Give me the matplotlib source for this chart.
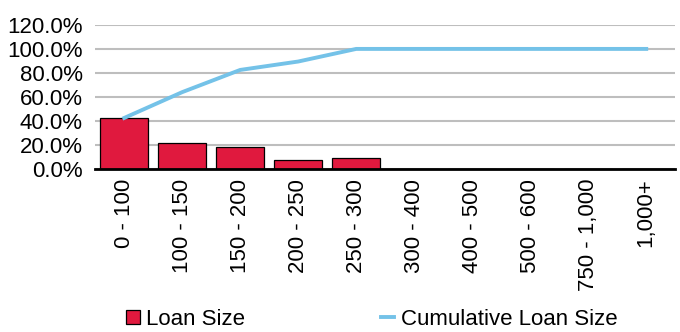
import matplotlib.pyplot as plt
import numpy as np

plt.rcParams['font.family'] = ['Liberation Sans', 'DejaVu Sans']

# loan size buckets and shares (percent)
buckets = ['0 - 100', '100 - 150', '150 - 200', '200 - 250', '250 - 300',
           '300 - 400', '400 - 500', '500 - 600', '750 - 1,000', '1,000+']
loan_share = [42.5, 21.5, 18.5, 7.5, 9.5, 0, 0, 0, 0, 0]
cumulative = [42.5, 64.0, 82.5, 89.5, 100.0, 100.0, 100.0, 100.0, 100.0, 100.0]
yticks = [0, 20, 40, 60, 80, 100, 120]

fig = plt.figure(figsize=(6.8, 3.32), dpi=100)
ax = fig.add_axes([0.14, 0.491, 0.853, 0.434])

x = np.arange(len(buckets))
bars = ax.bar(x, loan_share, width=0.83, color='#E0193E', edgecolor='black',
              linewidth=0.9, label='Loan Size', zorder=3)
line, = ax.plot(x, cumulative, color='#74C2E8', linewidth=2.8,
                label='Cumulative Loan Size', zorder=4)

ax.set_xlim(-0.5, len(buckets) - 0.5)
ax.set_ylim(0, 120)
ax.set_yticks(yticks)
ax.set_yticklabels(['%.1f%%' % v for v in yticks], fontsize=16)
ax.set_xticks(x)
ax.set_xticklabels(buckets, rotation=90, fontsize=16, va='top', ha='center')
ax.tick_params(axis='both', length=0)
ax.tick_params(axis='y', pad=9)
ax.tick_params(axis='x', pad=7)
ax.yaxis.grid(True, color='#BEBEBE', linewidth=1.5, zorder=0)
for s in ['left', 'right', 'top']:
    ax.spines[s].set_visible(False)
ax.spines['bottom'].set_linewidth(2)
ax.spines['bottom'].set_zorder(5)

fig.legend(handles=[bars, line], loc='lower left', bbox_to_anchor=(0.163, -0.04),
           ncol=2, frameon=False, fontsize=16, handlelength=0.6, handleheight=0.6,
           handletextpad=0.3, columnspacing=6.1, borderpad=0.2)

fig.savefig('out.png', dpi=100)
